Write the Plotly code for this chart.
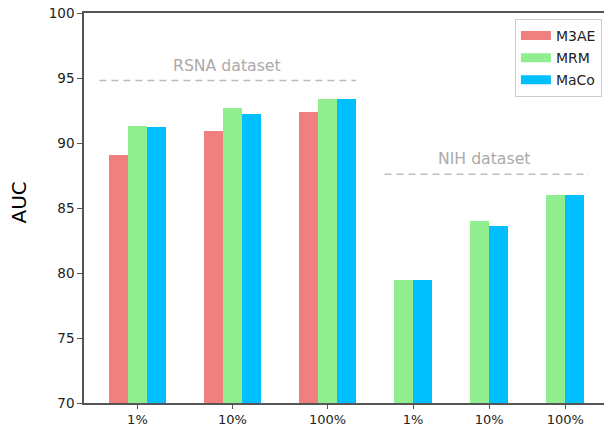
import plotly.graph_objects as go

# Data: AUC per label fraction on two datasets
tick_labels = ["1%", "10%", "100%", "1%", "10%", "100%"]
group_pos = [0, 1, 2, 2.9, 3.7, 4.5]
series_names = ["M3AE", "MRM", "MaCo"]
m3ae = [89.1, 90.9, 92.4, None, None, None]
mrm = [91.3, 92.7, 93.4, 79.5, 84.0, 86.0]
maco = [91.2, 92.2, 93.4, 79.5, 83.6, 86.0]
colors = ["#F08080", "#90EE90", "#00BFFF"]

bar_w = 0.2
values = [m3ae, mrm, maco]

# Centre the bars present in each group around the group's tick
xs = [[None] * len(group_pos) for _ in values]
for g, gx in enumerate(group_pos):
    present = [s for s in range(len(values)) if values[s][g] is not None]
    n = len(present)
    for k, s in enumerate(present):
        xs[s][g] = gx + (k - (n - 1) / 2) * bar_w

fig = go.Figure()
for s, name in enumerate(series_names):
    px = [x for x, v in zip(xs[s], values[s]) if v is not None]
    py = [v for v in values[s] if v is not None]
    fig.add_trace(go.Bar(
        x=px, y=py, width=bar_w, name=name, showlegend=False, legendgroup=name,
        marker=dict(color=colors[s], line=dict(width=0)),
    ))
    # legend swatch as a wide thick line
    fig.add_trace(go.Scatter(
        x=[None], y=[None], mode="lines", name=name, legendgroup=name,
        line=dict(color=colors[s], width=9),
    ))

# Dataset separators and labels
dash_col = "#BBBBBB"
for x0, x1, y, label, lx, ly in [
    (-0.4, 2.3, 94.8, "RSNA dataset", 0.937, 95.95),
    (2.6, 4.75, 87.6, "NIH dataset", 3.65, 88.8),
]:
    fig.add_shape(type="line", x0=x0, x1=x1, y0=y, y1=y, xref="x", yref="y",
                  line=dict(color=dash_col, width=1.5, dash="7px,5px"), layer="above")
    fig.add_annotation(x=lx, y=ly, xref="x", yref="y", text=label, showarrow=False,
                       font=dict(family="DejaVu Sans", size=15.7, color="#AAAAAA"))

# y-axis label
fig.add_annotation(x=-0.125, y=0.514, xref="paper", yref="paper", text="AUC",
                   textangle=-90, showarrow=False, xanchor="center", yanchor="middle",
                   font=dict(family="DejaVu Sans", size=20, color="black"))

axis_col = "#555555"
fig.update_layout(
    width=604, height=427,
    margin=dict(l=84, r=0, t=13, b=24),
    plot_bgcolor="white", paper_bgcolor="white",
    barmode="overlay", bargap=0,
    font=dict(family="DejaVu Sans", size=13, color="#222222"),
    xaxis=dict(
        range=[-0.562, 4.908], tickvals=group_pos, ticktext=tick_labels,
        showgrid=False, zeroline=False, showline=True, linecolor=axis_col, linewidth=1.5,
        mirror=True, ticks="outside", ticklen=4, tickcolor=axis_col, tickwidth=1,
        tickfont=dict(size=13, color="#222222"),
    ),
    yaxis=dict(
        range=[70, 100], dtick=5, showgrid=False, zeroline=False,
        showline=True, linecolor=axis_col, linewidth=1.5,
        ticks="outside", ticklen=5, tickcolor=axis_col, tickwidth=1,
        tickfont=dict(size=13.5, color="#222222"),
    ),
    legend=dict(
        x=0.996, y=0.985, xanchor="right", yanchor="top",
        bgcolor="white", bordercolor="#CCCCCC", borderwidth=1,
        font=dict(size=14, color="#222222"),
        traceorder="grouped", tracegroupgap=1, itemwidth=30,
    ),
)

fig.write_html("out.html")
